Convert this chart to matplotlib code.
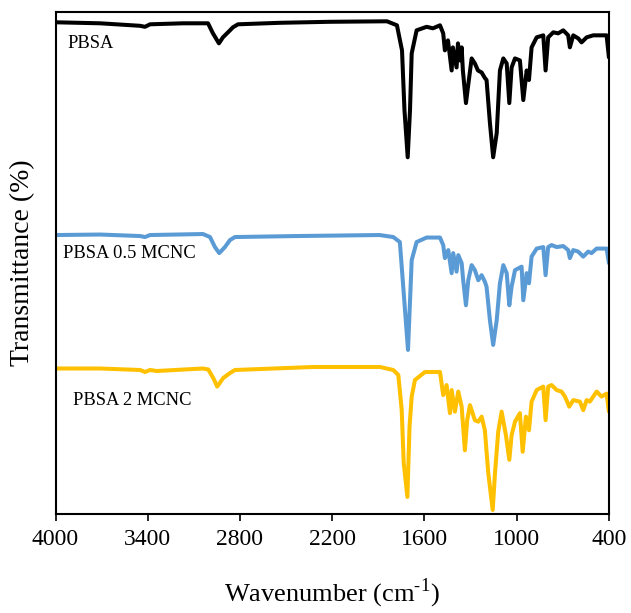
import matplotlib
matplotlib.use("Agg")
import matplotlib.pyplot as plt

plt.rcParams["font.family"] = ["Liberation Serif", "DejaVu Serif"]
plt.rcParams["mathtext.fontset"] = "custom"
plt.rcParams["mathtext.rm"] = "Liberation Serif"

# FTIR spectra, stacked transmittance (a.u.)
wn_pbsa = [3997, 3710, 3450, 3418, 3385, 3171, 3008, 2976, 2937, 2911, 2865, 2846, 2813,
           2540, 2215, 1844, 1779, 1746, 1730, 1709, 1694, 1683, 1651, 1586, 1545, 1499,
           1478, 1467, 1447, 1423, 1415, 1391, 1382, 1369, 1358, 1350, 1330, 1317, 1293,
           1272, 1252, 1228, 1207, 1196, 1174, 1153, 1130, 1109, 1087, 1065, 1048, 1033,
           1011, 979, 957, 935, 920, 903, 870, 827, 812, 795, 762, 730, 697, 665, 654,
           632, 600, 578, 545, 502, 415, 400]
t_pbsa = [98.0, 97.8, 97.3, 97.1, 97.6, 97.8, 97.8, 95.8, 93.8, 95.0, 96.4, 97.0, 97.6,
          97.9, 98.1, 98.2, 97.4, 92.4, 80.5, 71.1, 80.5, 91.8, 96.4, 97.1, 96.8, 97.4,
          95.8, 92.4, 94.4, 88.4, 93.0, 89.0, 93.8, 90.4, 93.0, 88.4, 81.9, 85.1, 90.8,
          89.8, 88.4, 88.0, 86.9, 86.5, 77.9, 71.1, 75.9, 88.4, 90.8, 89.8, 81.9, 89.0,
          90.8, 90.4, 82.5, 88.4, 86.5, 93.0, 95.0, 95.4, 88.4, 95.0, 96.0, 95.8, 96.4,
          95.4, 93.0, 95.4, 94.8, 94.0, 95.0, 95.4, 95.4, 91.0]

wn_05 = [3997, 3710, 3450, 3418, 3385, 3041, 2995, 2963, 2935, 2898, 2865, 2833, 2431,
         1892, 1803, 1760, 1738, 1707, 1683, 1651, 1586, 1499, 1478, 1467, 1445, 1423,
         1413, 1391, 1380, 1358, 1348, 1330, 1315, 1293, 1272, 1250, 1228, 1207, 1196,
         1174, 1153, 1130, 1109, 1087, 1065, 1048, 1033, 1011, 968, 957, 935, 920, 903,
         870, 827, 812, 795, 773, 740, 697, 665, 654, 632, 600, 567, 535, 513, 480, 415,
         400]
t_05 = [55.6, 55.7, 55.4, 55.2, 55.6, 55.8, 55.2, 53.2, 52.0, 53.2, 54.6, 55.2, 55.4,
        55.6, 55.2, 54.2, 45.3, 32.7, 50.6, 54.2, 55.1, 55.1, 53.6, 51.0, 52.6, 48.0,
        52.0, 48.3, 51.6, 50.0, 46.6, 41.6, 46.6, 49.6, 48.6, 46.6, 47.6, 46.3, 45.3,
        38.6, 33.7, 38.6, 46.0, 49.6, 48.0, 41.6, 45.3, 48.6, 49.3, 42.6, 48.0, 46.0,
        51.3, 52.9, 53.2, 47.6, 53.2, 53.6, 53.2, 53.4, 52.6, 51.0, 52.6, 52.3, 51.3,
        52.3, 52.0, 52.9, 52.9, 50.0]

wn_2 = [3997, 3710, 3450, 3418, 3385, 3342, 3041, 3006, 2974, 2948, 2909, 2865, 2833,
        2325, 1889, 1803, 1770, 1748, 1735, 1711, 1697, 1683, 1662, 1597, 1499, 1478,
        1456, 1434, 1423, 1402, 1380, 1358, 1337, 1322, 1304, 1272, 1250, 1228, 1207,
        1185, 1156, 1141, 1120, 1098, 1070, 1048, 1033, 1011, 979, 961, 940, 920, 903,
        870, 827, 812, 795, 773, 740, 708, 686, 658, 632, 589, 567, 545, 524, 480, 448,
        415, 400]
t_2 = [29.0, 29.0, 28.7, 28.3, 28.7, 28.5, 29.0, 28.8, 27.1, 25.4, 27.1, 28.1, 28.7,
       29.3, 29.3, 28.7, 27.7, 20.7, 10.2, 3.4, 17.4, 23.4, 26.7, 28.3, 28.3, 23.7,
       25.7, 20.1, 24.7, 20.4, 24.4, 21.4, 12.7, 18.7, 21.7, 18.7, 18.4, 19.4, 16.7,
       8.2, 0.8, 8.2, 16.4, 20.4, 15.7, 10.8, 15.7, 18.4, 20.1, 12.4, 19.4, 16.7, 22.4,
       24.7, 25.4, 18.7, 25.4, 25.7, 24.7, 24.4, 23.4, 21.4, 22.7, 22.4, 20.7, 22.7,
       22.4, 24.4, 23.4, 24.0, 20.4]

names = ["PBSA", "PBSA 0.5 MCNC", "PBSA 2 MCNC"]
colors = ["#000000", "#5B9BD5", "#FFC000"]
label_pos = [(3925, 93.8), (3953, 52.0), (3888, 22.7)]

fig = plt.figure(figsize=(6.31, 6.13), dpi=100)
ax = fig.add_axes([0.088, 0.1615, 0.877, 0.8185])

spectra = [(wn_pbsa, t_pbsa), (wn_05, t_05), (wn_2, t_2)]
for (wn, t), c, name, (lx, ly) in zip(spectra, colors, names, label_pos):
    ax.plot(wn, t, color=c, lw=2.9, solid_joinstyle="round", solid_capstyle="round")
    ax.text(lx, ly, name, fontsize=13.3, ha="left", va="center")

ax.set_xlim(4000, 400)
ax.set_ylim(0, 100)
ax.set_xticks([4000, 3400, 2800, 2200, 1600, 1000, 400])
ax.set_yticks([])
ax.tick_params(axis="x", labelsize=17, length=5, width=1.2, direction="out", pad=6)
for s in ax.spines.values():
    s.set_linewidth(1.5)

ax.set_xlabel("Wavenumber (cm$^{\\mathrm{\u2010}\\mathrm{1}}$)", fontsize=19, labelpad=19)
ax.set_ylabel("Transmittance (%)", fontsize=20, labelpad=15)

fig.savefig("out.png", dpi=100)
